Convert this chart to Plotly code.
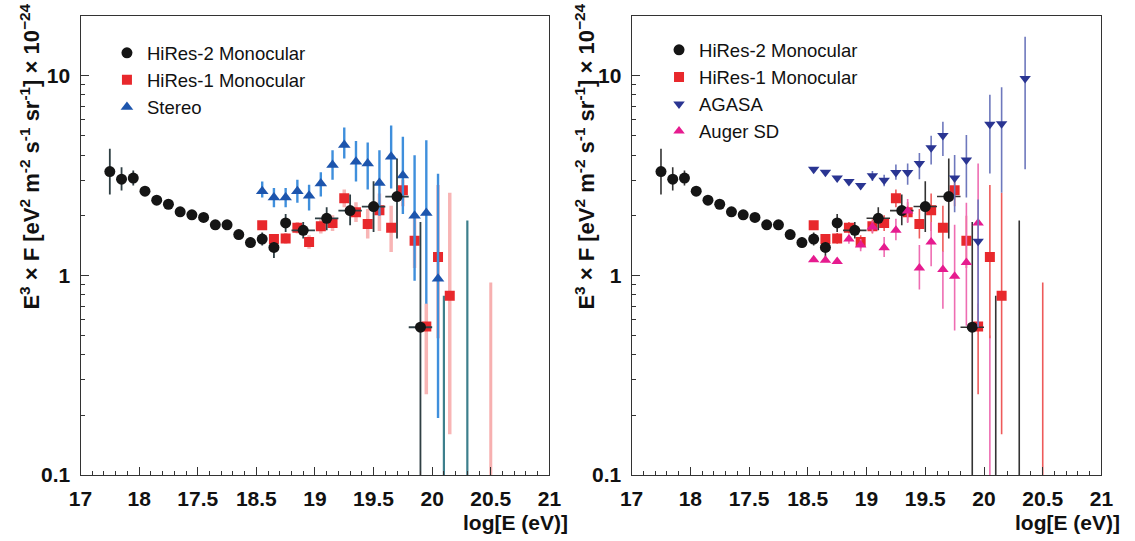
import plotly.graph_objects as go

# ---------------- data ----------------
hires2_E = [17.25, 17.35, 17.45, 17.55, 17.65, 17.75, 17.85, 17.95, 18.05, 18.15, 18.25,
            18.35, 18.45, 18.55, 18.65, 18.75, 18.9, 19.1, 19.3, 19.5, 19.7, 19.9]
hires2_F = [3.31, 3.03, 3.07, 2.64, 2.38, 2.27, 2.08, 2.01, 1.95, 1.79, 1.79,
            1.60, 1.46, 1.52, 1.38, 1.83, 1.68, 1.93, 2.11, 2.21, 2.48, 0.55]
hires2_up = [0.99, 0.45, 0.28, 0.12, 0.08, 0.07, 0.07, 0.06, 0.06, 0.06, 0.06,
             0.08, 0.09, 0.12, 0.09, 0.20, 0.17, 0.26, 0.43, 0.75, 1.37, 1.30]
hires2_dn = [0.77, 0.37, 0.25, 0.11, 0.07, 0.06, 0.06, 0.05, 0.05, 0.06, 0.06,
             0.07, 0.08, 0.11, 0.16, 0.18, 0.15, 0.25, 0.33, 0.56, 0.95, 0.50]
hires2_xerr = [0, 0, 0, 0, 0, 0, 0, 0, 0, 0, 0, 0, 0, 0, 0, 0, 0.1, 0.1, 0.1, 0.1, 0.1, 0.1]
hires2_lim_E = [20.1, 20.3]
hires2_lim_F = [0.79, 1.88]

hires1_E = [18.55, 18.65, 18.75, 18.85, 18.95, 19.05, 19.15, 19.25, 19.35, 19.45, 19.55,
            19.65, 19.75, 19.85, 19.95, 20.05, 20.15]
hires1_F = [1.78, 1.52, 1.53, 1.73, 1.47, 1.76, 1.83, 2.43, 2.07, 1.81, 2.12,
            1.73, 2.67, 1.49, 0.554, 1.235, 0.79]
hires1_up = [0.09, 0.09, 0.10, 0.12, 0.12, 0.15, 0.17, 0.26, 0.25, 0.34, 0.45,
             0.50, 0.35, 0.50, 0.17, 1.60, 1.80]
hires1_dn = [0.08, 0.08, 0.09, 0.11, 0.11, 0.14, 0.16, 0.24, 0.22, 0.28, 0.45,
             0.42, 0.45, 0.40, 0.30, 0.75, 0.63]
hires1_lim_E = [20.5]
hires1_lim_F = [0.92]

stereo_E = [18.55, 18.65, 18.75, 18.85, 18.95, 19.05, 19.15, 19.25, 19.35, 19.45, 19.55,
            19.65, 19.75, 19.85, 19.95, 20.05]
stereo_F = [2.64, 2.45, 2.45, 2.64, 2.50, 2.88, 3.57, 4.50, 3.70, 3.63, 2.90,
            3.92, 3.16, 1.99, 2.05, 0.963]
stereo_up = [0.31, 0.29, 0.29, 0.37, 0.34, 0.40, 0.66, 1.00, 1.00, 1.00, 1.33,
             1.70, 1.78, 2.00, 2.70, 2.26]
stereo_dn = [0.19, 0.26, 0.26, 0.33, 0.39, 0.40, 0.56, 0.65, 0.75, 0.94, 0.91,
             1.20, 1.13, 1.05, 1.33, 0.77]

agasa_E = [18.55, 18.65, 18.75, 18.85, 18.95, 19.05, 19.15, 19.25, 19.35, 19.45, 19.55,
           19.65, 19.75, 19.85, 19.95, 20.05, 20.15, 20.35]
agasa_F = [3.40, 3.28, 3.07, 2.95, 2.82, 3.15, 2.99, 3.27, 3.27, 3.63, 4.35,
           5.01, 3.07, 3.78, 1.48, 5.71, 5.74, 9.66]
agasa_up = [0.0, 0.0, 0.0, 0.0, 0.0, 0.18, 0.20, 0.32, 0.36, 0.47, 0.65,
            0.87, 0.93, 1.26, 0.92, 2.30, 3.00, 6.00]
agasa_dn = [0.0, 0.0, 0.0, 0.0, 0.0, 0.18, 0.20, 0.26, 0.43, 0.60, 0.76,
            1.05, 1.00, 1.33, 0.93, 2.47, 3.15, 6.26]

auger_E = [18.55, 18.65, 18.75, 18.85, 18.95, 19.05, 19.15, 19.25, 19.35, 19.45, 19.55,
           19.65, 19.75, 19.85, 19.95]
auger_F = [1.198, 1.19, 1.175, 1.52, 1.42, 1.745, 1.376, 1.68, 2.10, 1.09, 1.47,
           1.07, 0.99, 1.16, 1.83]
auger_up = [0.0, 0.0, 0.0, 0.08, 0.10, 0.12, 0.18, 0.24, 0.31, 0.33, 0.38,
            0.25, 0.80, 1.15, 1.80]
auger_dn = [0.0, 0.0, 0.0, 0.08, 0.10, 0.11, 0.14, 0.18, 0.27, 0.24, 0.36,
            0.39, 0.46, 0.60, 1.27]
auger_lim_E = [20.05]
auger_lim_F = [0.50]

x_tickvals = [17, 17.5, 18, 18.5, 19, 19.5, 20, 20.5, 21]
x_ticktext = ["17", "18", "17.5", "18.5", "19", "19.5", "20", "20.5", "21"]
y_tickvals = [0.1, 1, 10]
y_ticktext = ["0.1", "1", "10"]
y_minor = [0.2, 0.3, 0.4, 0.5, 0.6, 0.7, 0.8, 0.9, 2, 3, 4, 5, 6, 7, 8, 9, 20]

# ---------------- style ----------------
W, H = 1135, 541
FONT = "Liberation Sans, Arial, Helvetica, sans-serif"
BLACK = "#151515"
RED = "#e8282c"
BLUE = "#1d55ad"
BLUE_BAR = "#3f8fdc"
AGASA = "#2a3592"
AGASA_BAR = "#6e78bd"
AUGER = "#e61b8f"
AUGER_BAR = "#ee6db2"
FLOOR = 0.05  # lower end for limit bars (below the axis range)

fig = go.Figure()


def pts(x, y, up, dn, xa, ya, name, color, symbol, size, barcolor, barw,
        legend, rank, xerr=None, show=True):
    fig.add_trace(go.Scatter(
        x=x, y=y, mode="markers", name=name, xaxis=xa, yaxis=ya,
        marker=dict(color=color, symbol=symbol, size=size, line=dict(width=0)),
        error_y=dict(type="data", symmetric=False, array=up, arrayminus=dn,
                     color=barcolor, thickness=barw, width=0),
        error_x=(dict(type="data", array=xerr, color=barcolor, thickness=barw, width=0)
                 if xerr is not None else None),
        legend=legend, legendrank=rank, showlegend=show))


def limits(x, top, xa, ya, color, w):
    fig.add_trace(go.Scatter(
        x=x, y=top, mode="markers", xaxis=xa, yaxis=ya, showlegend=False,
        marker=dict(size=1, color="rgba(0,0,0,0)"),
        error_y=dict(type="data", symmetric=False, array=[0] * len(top),
                     arrayminus=[t - FLOOR for t in top], color=color,
                     thickness=w, width=0),
        hoverinfo="skip"))


# ----- left panel -----
limits(hires1_lim_E, hires1_lim_F, "x", "y", "rgba(244,150,150,0.75)", 3)
limits(hires2_lim_E, hires2_lim_F, "x", "y", "#3d7f8c", 2.2)
pts(hires1_E, hires1_F, hires1_up, hires1_dn, "x", "y", "HiRes-1 Monocular", RED,
    "square", 10, "rgba(245,150,150,0.7)", 3.5, "legend", 2)
pts(stereo_E, stereo_F, stereo_up, stereo_dn, "x", "y", "Stereo", BLUE,
    "triangle-up", 11, BLUE_BAR, 2.4, "legend", 3)
pts(hires2_E, hires2_F, hires2_up, hires2_dn, "x", "y", "HiRes-2 Monocular", BLACK,
    "circle", 11, "#2f3f44", 1.8, "legend", 1, xerr=hires2_xerr)

# ----- right panel -----
limits(hires1_lim_E, hires1_lim_F, "x2", "y2", "#ee5a5a", 1.6)
limits(hires2_lim_E, hires2_lim_F, "x2", "y2", "#333333", 1.6)
limits(auger_lim_E, auger_lim_F, "x2", "y2", AUGER_BAR, 1.6)
pts(hires1_E, hires1_F, hires1_up, hires1_dn, "x2", "y2", "HiRes-1 Monocular", RED,
    "square", 10, "#ee5a5a", 1.6, "legend2", 2)
pts(hires2_E, hires2_F, hires2_up, hires2_dn, "x2", "y2", "HiRes-2 Monocular", BLACK,
    "circle", 11, "#333333", 1.6, "legend2", 1, xerr=hires2_xerr)
pts(auger_E, auger_F, auger_up, auger_dn, "x2", "y2", "Auger SD", AUGER,
    "triangle-up", 10, AUGER_BAR, 1.6, "legend2", 4)
pts(agasa_E, agasa_F, agasa_up, agasa_dn, "x2", "y2", "AGASA", AGASA,
    "triangle-down", 10, AGASA_BAR, 1.6, "legend2", 3)

# ----- axes -----
L0, L1 = 70 / W, 549 / W
R0, R1 = 633 / W, 1113 / W
Y0, Y1 = 1 - 485 / H, 1 - 16 / H

tickfont = dict(family=FONT, size=21, color="#111111", weight="bold")


def xaxis(dom, anchor):
    return dict(domain=dom, anchor=anchor, range=[17, 21], tickvals=x_tickvals,
                ticktext=x_ticktext, ticks="inside", ticklen=8, tickwidth=1.2,
                tickcolor="#333", showline=True, linecolor="#333", linewidth=1.2,
                mirror=True, showgrid=False, zeroline=False, tickfont=tickfont,
                ticklabelstandoff=5,
                minor=dict(dtick=0.1, tick0=17, ticks="inside", ticklen=4,
                           tickwidth=1, tickcolor="#333", showgrid=False))


def yaxis(anchor):
    return dict(domain=[Y0, Y1], anchor=anchor, type="log", range=[-1, 1.3],
                tickvals=y_tickvals, ticktext=y_ticktext, ticks="inside",
                ticklen=8, tickwidth=1.2, tickcolor="#333", showline=True,
                linecolor="#333", linewidth=1.2, mirror=True, showgrid=False,
                zeroline=False, tickfont=tickfont, ticklabelstandoff=5,
                minor=dict(tickvals=y_minor, ticks="inside", ticklen=4,
                           tickwidth=1, tickcolor="#333", showgrid=False))


legfont = dict(family=FONT, size=18.5, color="#111111")
ytitle = ("E<sup>3</sup> × F [eV<sup>2</sup> m<sup>-2</sup> s<sup>-1</sup> "
          "sr<sup>-1</sup>] × 10<sup>−24</sup>")
tfont = dict(family=FONT, size=22, color="#111111", weight="bold")
xtfont = dict(family=FONT, size=21, color="#111111", weight="bold")

fig.update_layout(
    width=W, height=H, margin=dict(l=0, r=0, t=0, b=0),
    paper_bgcolor="white", plot_bgcolor="white",
    xaxis=xaxis([L0, L1], "y"), yaxis=yaxis("x"),
    xaxis2=xaxis([R0, R1], "y2"), yaxis2=yaxis("x2"),
    legend=dict(x=97 / W, y=1 - 35 / H, xanchor="left", yanchor="top",
                bgcolor="rgba(0,0,0,0)", font=legfont, tracegroupgap=0),
    legend2=dict(x=661 / W, y=1 - 32 / H, xanchor="left", yanchor="top",
                 bgcolor="rgba(0,0,0,0)", font=legfont, tracegroupgap=0),
    annotations=[
        dict(text=ytitle, xref="paper", yref="paper", x=18 / W, y=1 - 2 / H,
             xanchor="center", yanchor="top", textangle=-90, showarrow=False,
             font=tfont),
        dict(text=ytitle, xref="paper", yref="paper", x=585 / W, y=1 - 2 / H,
             xanchor="center", yanchor="top", textangle=-90, showarrow=False,
             font=tfont),
        dict(text="log[E (eV)]", xref="paper", yref="paper", x=570 / W,
             y=1 - 533 / H, xanchor="right", yanchor="middle", showarrow=False,
             font=xtfont),
        dict(text="log[E (eV)]", xref="paper", yref="paper", x=1134 / W,
             y=1 - 533 / H, xanchor="right", yanchor="middle", showarrow=False,
             font=xtfont),
    ],
)

fig.write_html("out.html")
